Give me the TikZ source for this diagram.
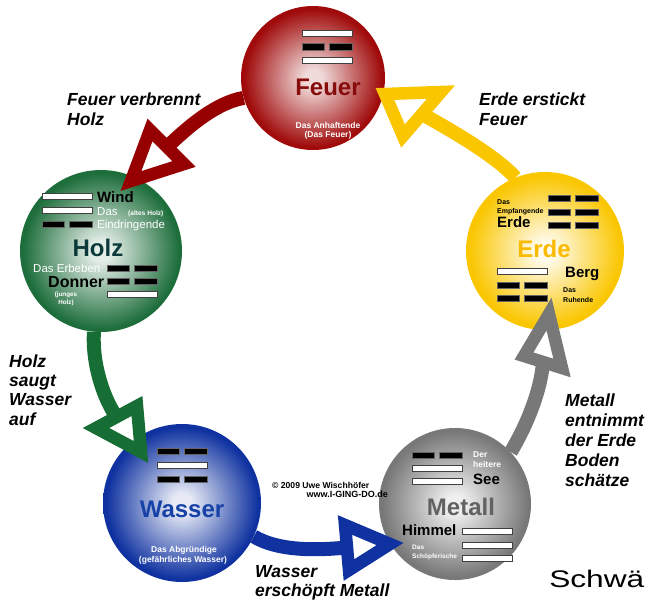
\documentclass[tikz,border=0pt]{standalone}
\usepackage{fontspec}
\setmainfont{Liberation Sans}
\pgfdeclareradialshading[innerc,outerc]{glow}{\pgfpoint{0bp}{0bp}}{color(0bp)=(innerc); color(3bp)=(innerc); color(24bp)=(outerc); color(50bp)=(outerc)}
\definecolor{fRed}{RGB}{160,10,10}
\definecolor{fRedArrow}{RGB}{150,0,0}
\definecolor{fRedText}{RGB}{135,12,12}
\definecolor{hGreen}{RGB}{30,110,60}
\definecolor{hGreenArrow}{RGB}{22,110,52}
\definecolor{hText}{RGB}{12,58,58}
\definecolor{eYellow}{RGB}{250,198,0}
\definecolor{eText}{RGB}{250,186,0}
\definecolor{wBlue}{RGB}{15,50,160}
\definecolor{wText}{RGB}{22,66,168}
\definecolor{mGray}{RGB}{120,120,120}
\definecolor{mText}{RGB}{98,98,98}
\newcommand{\yangbar}[2]{\draw[yangst] (#1,#2) rectangle ++(50,6.5);}
\newcommand{\yinbar}[2]{\draw[yinst] (#1,#2) rectangle ++(22.5,6.5); \draw[yinst] (#1+27.5,#2) rectangle ++(22.5,6.5);}
\begin{document}
\begin{tikzpicture}[x=1pt,y=-1pt,
  ball/.style 2 args={circle, inner sep=0pt, shade, shading=glow, /utils/exec={\colorlet{innerc}{#1}\colorlet{outerc}{#2}}},
  shaft/.style={line width=14pt, line cap=butt},
  headst/.style={line width=12.5pt, line join=miter, fill=white},
  yangst/.style={fill=white, draw=black!75, line width=0.8pt},
  yinst/.style={fill=black, draw=black!60, line width=0.5pt},
  bigt/.style={inner sep=0pt, font=\fontsize{24}{28}\selectfont\bfseries},
  midt/.style={inner sep=0pt, font=\fontsize{15}{17}\selectfont\bfseries},
  smallt/.style={inner sep=0pt, text=white, font=\fontsize{11.5}{13}\selectfont},
  tinyt/.style={inner sep=0pt, align=center, font=\fontsize{#1}{#1}\selectfont\bfseries},
  lbl/.style={inner sep=0pt, align=left, font=\fontsize{17.5}{20}\selectfont\bfseries\itshape},
]
\useasboundingbox (0,0) rectangle (647,603);

% circles
\node[ball={white!85!fRed}{fRed}, minimum size=144pt] (feuer) at (313,78) {};
\node[ball={white!88!hGreen}{hGreen}, minimum size=162pt] (holz) at (101,251) {};
\node[ball={white!92!eYellow}{eYellow}, minimum size=158pt] (erde) at (545,251) {};
\node[ball={white!90!wBlue}{wBlue}, minimum size=158pt] (wasser) at (182,503) {};
\node[ball={white!88!mGray}{mGray}, minimum size=152pt] (metall) at (455,504) {};

% arrow shafts
\coordinate (rbase) at (167,147);
\coordinate (ybase) at (422,114);
\coordinate (gbase) at (116.5,417);
\coordinate (bbase) at (347,547.5);
\coordinate (mbase) at (543,362);
\draw[shaft, fRedArrow] (feuer.196) .. controls (215,103) and (187,128) .. (rbase);
\draw[shaft, eYellow] (erde.112) .. controls (495,155) and (447,128) .. (ybase);
\draw[shaft, hGreenArrow] (holz.265) .. controls (92,365) and (104,399) .. (gbase);
\draw[shaft, wBlue] (wasser.335) .. controls (280,552) and (320,550) .. (bbase);
\draw[shaft, mGray] (metall.43) .. controls (527,425) and (541,390) .. (mbase);

% arrow heads
\draw[headst, draw=fRedArrow] (150,130) -- (184,164) -- (131,181) -- cycle;
\draw[headst, draw=eYellow] (441,92) -- (403,136) -- (385,94) -- cycle;
\draw[headst, draw=hGreenArrow] (96,428) -- (137,406) -- (141,452) -- cycle;
\draw[headst, draw=wBlue] (345,525) -- (349,570) -- (390,544) -- cycle;
\draw[headst, draw=mGray] (524,356) -- (562,368) -- (549,314) -- cycle;

% Feuer
\yangbar{302}{30} \yinbar{302}{43.5} \yangbar{302}{57}
\node[bigt, text=fRedText, anchor=base] (tFeuer) at (328,95) {Feuer};
\node[tinyt=8.5, text=white, anchor=base] (tF1) at (328,128) {Das Anhaftende};
\node[tinyt=8.5, text=white, anchor=base] (tF2) at (328,137.5) {(Das Feuer)};

% Holz
\yangbar{42}{193} \yangbar{42}{207} \yinbar{42}{221}
\node[midt, anchor=base west] (tWind) at (97,202) {Wind};
\node[smallt, anchor=base west] (tH1) at (97,215) {Das};
\node[tinyt=6.6, text=white, anchor=base west] (tH2) at (128,215) {(altes Holz)};
\node[smallt, anchor=base west] (tH3) at (97,228.5) {Eindringende};
\node[bigt, text=hText, anchor=base] (tHolz) at (98,256) {Holz};
\node[smallt, anchor=base west] (tH4) at (33,272) {Das Erbeben};
\node[midt, font=\fontsize{16}{18}\selectfont\bfseries, anchor=base west] (tDonner) at (48,287) {Donner};
\node[tinyt=6.3, text=white, anchor=base] (tH5) at (66,296) {(junges};
\node[tinyt=6.3, text=white, anchor=base] (tH6) at (66,304) {Holz)};
\yinbar{107}{265} \yinbar{107}{278} \yangbar{107}{291}

% Erde
\node[tinyt=7, anchor=base west] (tE1) at (497,204) {Das};
\node[tinyt=7, anchor=base west] (tE2) at (497,213) {Empfangende};
\node[midt, anchor=base west] (tE3) at (497,227) {Erde};
\yinbar{548}{195} \yinbar{548}{209} \yinbar{548}{222}
\node[bigt, text=eText, anchor=base] (tErde) at (544,257) {Erde};
\yangbar{497}{268} \yinbar{497}{282} \yinbar{497}{295}
\node[midt, anchor=base west] (tBerg) at (565,277) {Berg};
\node[tinyt=7, anchor=base west] (tE4) at (563,292) {Das};
\node[tinyt=7, anchor=base west] (tE5) at (563,302) {Ruhende};

% Wasser
\yinbar{157}{448} \yangbar{157}{462} \yinbar{157}{476}
\node[bigt, text=wText, anchor=base] (tWasser) at (182,517) {Wasser};
\node[tinyt=8.5, text=white, anchor=base] (tW1) at (184,552.5) {Das Abgründige};
\node[tinyt=8.5, text=white, anchor=base] (tW2) at (183,562) {(gefährliches Wasser)};

% Metall
\yinbar{412}{452} \yangbar{412}{465} \yangbar{412}{478}
\node[tinyt=8.5, text=white, anchor=base west] (tM1) at (473,457) {Der};
\node[tinyt=8.5, text=white, anchor=base west] (tM2) at (473,467) {heitere};
\node[midt, anchor=base west] (tSee) at (473,484) {See};
\node[bigt, text=mText, anchor=base] (tMetall) at (461,515) {Metall};
\node[midt, anchor=base west] (tHimmel) at (402,535) {Himmel};
\yangbar{462}{528} \yangbar{462}{542} \yangbar{462}{555}
\node[tinyt=6.5, text=white, anchor=base west] (tM3) at (412,549) {Das};
\node[tinyt=6.5, text=white, anchor=base west] (tM4) at (412,558) {Schöpferische};

% copyright
\node[tinyt=8.6, anchor=base west] (tC1) at (272,488) {© 2009 Uwe Wischhöfer};
\node[tinyt=9, anchor=base east] (tC2) at (388,497) {www.I-GING-DO.de};

% labels (base anchor = baseline of last line)
\node[lbl, anchor=base west] (lFH) at (67,125) {Feuer verbrennt\\Holz};
\node[lbl, anchor=base west] (lEF) at (479,125) {Erde erstickt\\Feuer};
\node[lbl, anchor=base west, font=\fontsize{17.5}{19.2}\selectfont\bfseries\itshape] (lHW) at (9,425) {Holz\\saugt\\Wasser\\auf};
\node[lbl, anchor=base west] (lME) at (565,486) {Metall\\entnimmt\\der Erde\\Boden\\schätze};
\node[lbl, anchor=base west, font=\fontsize{17.5}{18.5}\selectfont\bfseries\itshape] (lWM) at (255,596) {Wasser\\erschöpft Metall};

\node[inner sep=0pt, anchor=base west, font=\fontsize{24}{28}\selectfont, xscale=1.32] (tSchw) at (549,587) {Schwä};
\end{tikzpicture}
\end{document}
